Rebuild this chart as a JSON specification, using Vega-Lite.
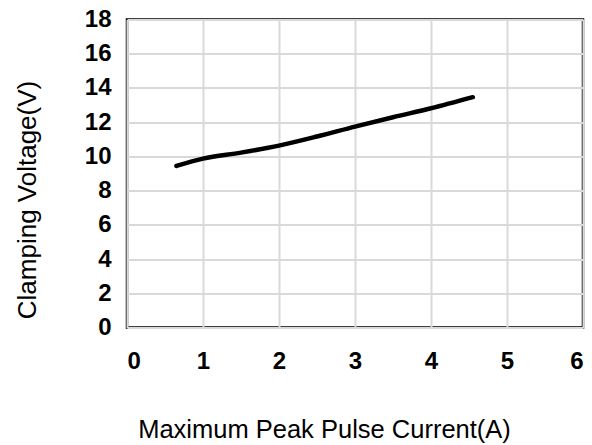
{
  "$schema": "https://vega.github.io/schema/vega-lite/v6.json",
  "autosize": {"type": "none"},
  "padding": {"left": 127, "top": 19.5, "right": 9, "bottom": 117},
  "width": 456,
  "height": 308,
  "background": "white",
  "config": {
    "view": {"stroke": "black", "strokeWidth": 2.5},
    "font": "Liberation Sans"
  },
  "data": {
    "values": [
      {"current": 0.65, "voltage": 9.44},
      {"current": 1.0, "voltage": 9.87},
      {"current": 1.5, "voltage": 10.22},
      {"current": 2.0, "voltage": 10.63},
      {"current": 2.5, "voltage": 11.16},
      {"current": 3.0, "voltage": 11.74},
      {"current": 3.5, "voltage": 12.29},
      {"current": 4.0, "voltage": 12.81},
      {"current": 4.55, "voltage": 13.46}
    ]
  },
  "mark": {"type": "line", "color": "black", "strokeWidth": 4.5, "interpolate": "monotone", "strokeCap": "round"},
  "encoding": {
    "x": {
      "field": "current",
      "type": "quantitative",
      "scale": {"domain": [0, 6], "nice": false},
      "axis": {
        "values": [0, 1, 2, 3, 4, 5, 6],
        "title": "Maximum Peak Pulse Current(A)",
        "titleFontSize": 25.5,
        "titleFontWeight": "normal",
        "titleColor": "black",
        "titleX": 197,
        "titleY": 110,
        "titleAlign": "center",
        "titleBaseline": "alphabetic",
        "labelFontSize": 24,
        "labelFontWeight": "bold",
        "labelColor": "black",
        "labelPadding": 22,
        "ticks": false,
        "domain": false,
        "grid": true,
        "gridColor": "#d9d9d9",
        "gridWidth": 2,
        "gridOpacity": 1
      }
    },
    "y": {
      "field": "voltage",
      "type": "quantitative",
      "scale": {"domain": [0, 18], "nice": false},
      "axis": {
        "values": [0, 2, 4, 6, 8, 10, 12, 14, 16, 18],
        "title": "Clamping Voltage(V)",
        "titleFontSize": 26,
        "titleFontWeight": "normal",
        "titleColor": "black",
        "titleX": -100,
        "titleY": 180,
        "titleAlign": "center",
        "titleBaseline": "middle",
        "labelFontSize": 24,
        "labelFontWeight": "bold",
        "labelColor": "black",
        "labelPadding": 16,
        "ticks": false,
        "domain": false,
        "grid": true,
        "gridColor": "#d9d9d9",
        "gridWidth": 2,
        "gridOpacity": 1
      }
    }
  }
}
